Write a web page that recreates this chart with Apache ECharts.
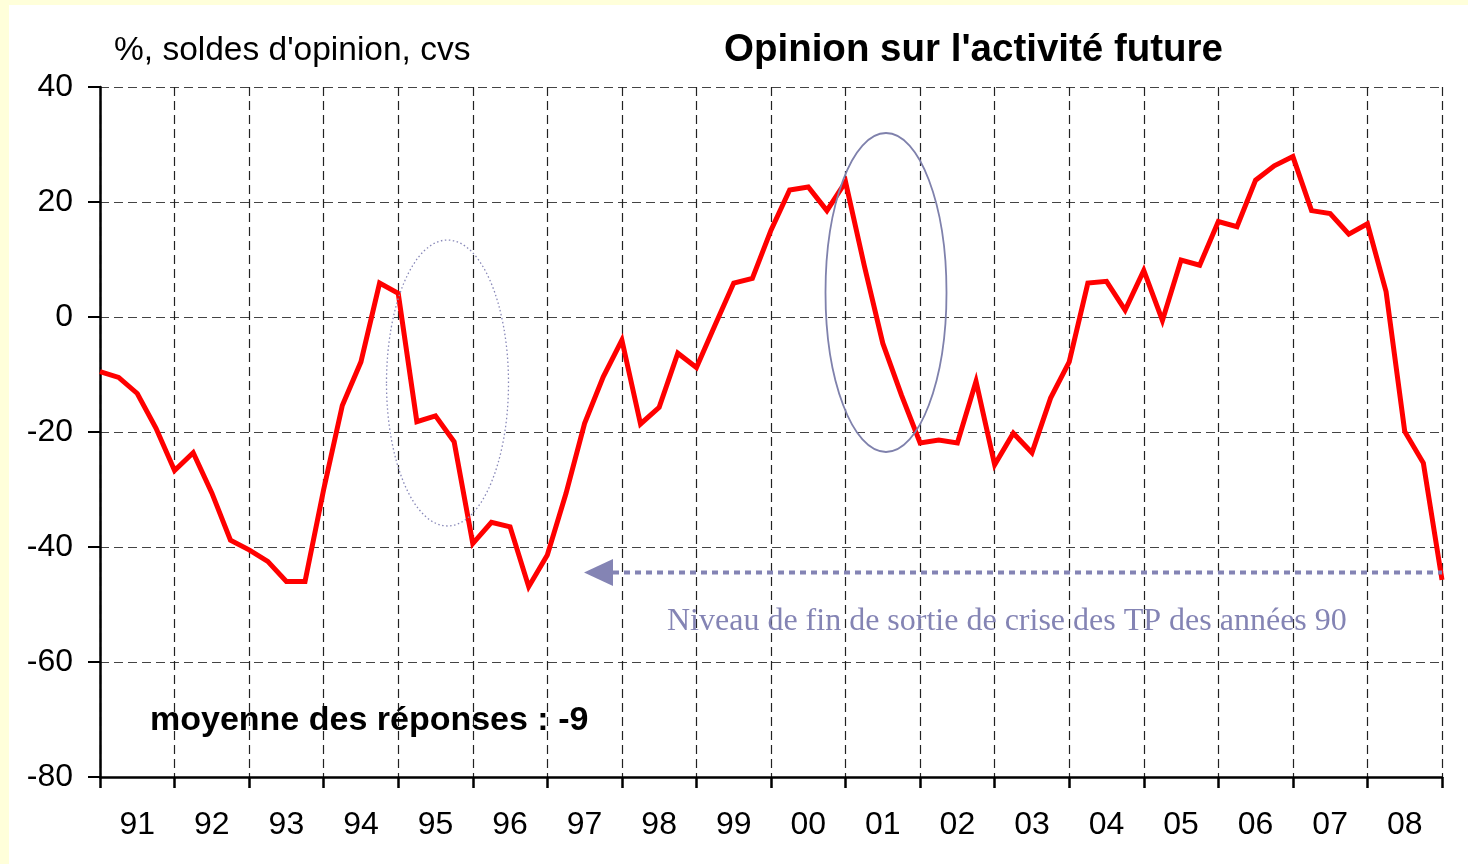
<!DOCTYPE html>
<html>
<head>
<meta charset="utf-8">
<script src="https://cdn.jsdelivr.net/npm/echarts@6/dist/echarts.min.js"></script>
<style>
  html, body { margin: 0; padding: 0; background: #FFFFDA; }
  #paper { position: absolute; left: 9px; top: 5px; right: 0; bottom: 0; background: #ffffff; }
  #chart { position: absolute; left: 0; top: 0; width: 1468px; height: 864px; }
</style>
</head>
<body>
<div id="paper"></div>
<div id="chart"></div>
<script>
// Quarterly categories 1991 T1 .. 2009 T1
const years = [1991,1992,1993,1994,1995,1996,1997,1998,1999,2000,2001,2002,2003,2004,2005,2006,2007,2008,2009];
const quarters = [];
years.forEach(function (y) { for (let q = 1; q <= 4; q++) { if (y < 2009 || q === 1) quarters.push(y + 'T' + q); } });

// Opinion sur l'activité future (solde, %, cvs)
const opinion = [
  -9.5, -10.5, -13.3, -19.3,
  -26.7, -23.6, -30.6, -38.8,
  -40.5, -42.5, -46.0, -46.0,
  -30.0, -15.4, -7.8, 5.9,
  4.1, -18.2, -17.2, -21.7,
  -39.4, -35.7, -36.5, -46.9,
  -41.4, -30.7, -18.5, -10.4,
  -4.0, -18.6, -15.7, -6.3,
  -8.8, -1.4, 5.9, 6.7,
  15.1, 22.1, 22.6, 18.5,
  23.5, 9.0, -4.6, -13.6,
  -21.9, -21.4, -21.9, -11.2,
  -25.7, -20.2, -23.6, -14.1,
  -7.8, 5.9, 6.2, 1.2,
  8.1, -0.6, 9.9, 9.0,
  16.6, 15.7, 23.8, 26.3,
  27.9, 18.5, 18.0, 14.4,
  16.2, 4.4, -19.9, -25.4,
  -45.7
];

const yTicks = { min: -80, max: 40, interval: 20 };

const titleText = "Opinion sur l'activité future";
const unitText = "%, soldes d'opinion, cvs";
const meanText = "moyenne des réponses : -9";
const noteText = "Niveau de fin de sortie de crise des TP des années 90";

const sans = "'Liberation Sans', Arial, sans-serif";
const serif = "'Liberation Serif', 'Times New Roman', serif";
const noteColor = '#8484B4';

const chart = echarts.init(document.getElementById('chart'), null, { renderer: 'canvas' });

chart.setOption({
  backgroundColor: 'transparent',
  animation: false,
  title: [
    { text: titleText, left: 719, top: 26,
      textStyle: { fontFamily: sans, fontWeight: 'bold', fontSize: 38.5, color: '#000' } },
    { text: unitText, left: 109, top: 29,
      textStyle: { fontFamily: sans, fontWeight: 'normal', fontSize: 33.5, color: '#000' } },
    { text: meanText, left: 145, top: 699,
      textStyle: { fontFamily: sans, fontWeight: 'bold', fontSize: 34, color: '#000' } },
    { text: noteText, left: 662, top: 601,
      textStyle: { fontFamily: serif, fontWeight: 'normal', fontSize: 32, color: noteColor } }
  ],
  grid: { left: 100, right: 26, top: 87, bottom: 87, containLabel: false },
  xAxis: {
    type: 'category',
    data: quarters,
    boundaryGap: false,
    axisLine: { show: true, onZero: false, lineStyle: { color: '#000', width: 2.5 } },
    axisTick: { show: true, length: 11, interval: function (i) { return i % 4 === 0; },
      lineStyle: { color: '#000', width: 2.5 } },
    axisLabel: {
      interval: function (i) { return i % 4 === 2; },
      formatter: function (v) { return v.slice(2, 4); },
      margin: 32, fontFamily: sans, fontSize: 32, color: '#000'
    },
    splitLine: { show: true, interval: function (i) { return i % 4 === 0; },
      lineStyle: { color: '#222', width: 1.2, type: [9, 5] } }
  },
  yAxis: {
    type: 'value',
    min: yTicks.min, max: yTicks.max, interval: yTicks.interval,
    axisLine: { show: true, lineStyle: { color: '#000', width: 2.5 } },
    axisTick: { show: true, length: 12, lineStyle: { color: '#000', width: 2 } },
    axisLabel: { margin: 27, fontFamily: sans, fontSize: 32, color: '#000' },
    splitLine: { show: true, lineStyle: { color: '#444', width: 1.2, type: [9, 5] } }
  },
  series: [{
    type: 'line',
    data: opinion,
    symbol: 'none',
    lineStyle: { color: '#FF0000', width: 5, join: 'miter' },
    z: 5
  }],
  graphic: [
    { type: 'ellipse', shape: { cx: 447.5, cy: 383, rx: 61, ry: 143 },
      style: { fill: 'none', stroke: '#8888B8', lineWidth: 1.3, lineDash: [1.5, 2.5] }, z: 10 },
    { type: 'ellipse', shape: { cx: 886, cy: 292.5, rx: 60.5, ry: 159.5 },
      style: { fill: 'none', stroke: '#7F81AC', lineWidth: 1.8 }, z: 10 },
    { type: 'line', shape: { x1: 613, y1: 572.5, x2: 1442, y2: 572.5 },
      style: { stroke: noteColor, lineWidth: 4, lineDash: [6, 5] }, z: 10 },
    { type: 'polygon', shape: { points: [[584, 572.5], [613, 559], [613, 586]] },
      style: { fill: noteColor }, z: 10 }
  ]
});
</script>
</body>
</html>
